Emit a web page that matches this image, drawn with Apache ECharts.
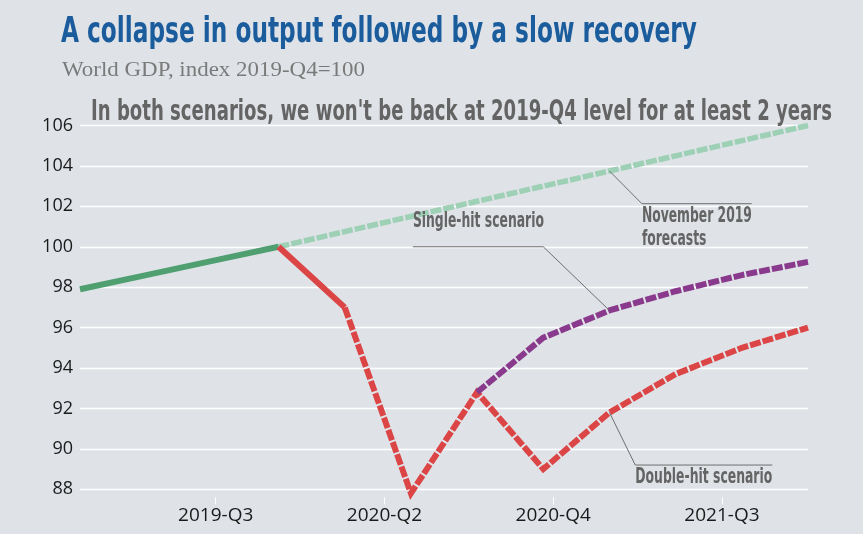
<!DOCTYPE html>
<html><head><meta charset="utf-8">
<script src="https://cdn.jsdelivr.net/npm/echarts@6/dist/echarts.min.js"></script>
<style>html,body{margin:0;padding:0;background:#dfe3e8}#c{width:863px;height:534px}</style>
</head><body><div id="c"></div>
<script>
// ---- data ----
const quarters = ['2019-Q1','2019-Q2','2019-Q3','2019-Q4','2020-Q1','2020-Q2','2020-Q3','2020-Q4','2021-Q1','2021-Q2','2021-Q3','2021-Q4'];
const historyGDP      = [97.9, 98.6, 99.3, 100.0, null, null, null, null, null, null, null, null];
const nov2019Forecast = [null, null, null, 100.0, 100.75, 101.5, 102.25, 103.0, 103.75, 104.5, 105.25, 106.0];
const doubleHit       = [null, null, null, 100.0, 97.0, 87.8, 92.8, 89.0, 91.8, 93.7, 95.0, 96.0];
const singleHit       = [null, null, null, null, null, null, 92.8, 95.5, 96.85, 97.8, 98.6, 99.25];
const xTickLabels    = ['2019-Q3', '2020-Q2', '2020-Q4', '2021-Q3'];
const xTickPositions = [2.05, 4.6, 7.15, 9.7];
const yTicks = [88, 90, 92, 94, 96, 98, 100, 102, 104, 106];

const TITLE = 'A collapse in output followed by a slow recovery';
const SUBTITLE = 'World GDP, index 2019-Q4=100';
const HEADLINE = "In both scenarios, we won't be back at 2019-Q4 level for at least 2 years";

// ---- helpers ----
function pairs(arr, from, to) {
  const out = [];
  arr.forEach((v, i) => { if (v != null && (from == null || i >= from) && (to == null || i <= to)) out.push([i, v]); });
  return out;
}
const ctx = document.createElement('canvas').getContext('2d');
function fitScale(str, font, target) { ctx.font = font; return target / ctx.measureText(str).width; }

const COND = "'Liberation Sans Narrow', 'DejaVu Sans Condensed', 'Roboto Condensed', sans-serif";
const C = {
  bg: '#dfe3e8', green: '#4f9f70', lightGreen: '#9dd0b5', red: '#dc4545', purple: '#8a3a8c',
  grid: '#ffffff', grey: '#646464', blue: '#1a5c9c', axis: '#1a1a1a'
};

const chart = echarts.init(document.getElementById('c'), null, { renderer: 'canvas' });

function lineSeries(name, data, color, width, dashed, z) {
  return {
    name, type: 'line', data, symbol: 'none', clip: false, z: z || 2,
    lineStyle: { color, width, type: dashed ? [11, 2] : 'solid', cap: 'butt', join: 'miter' },
    emphasis: { disabled: true }, animation: false, silent: true
  };
}

chart.setOption({
  backgroundColor: C.bg,
  animation: false,
  grid: { left: 80, right: 55, top: 125.5, bottom: 44.7, containLabel: false, outerBoundsMode: 'none' },
  xAxis: {
    type: 'value', min: 0, max: quarters.length - 1, offset: 8,
    axisLine: { show: false }, splitLine: { show: false },
    axisTick: { show: true, customValues: xTickPositions, length: 7, lineStyle: { color: '#ffffff', width: 1 } },
    axisLabel: {
      customValues: xTickPositions, fontSize: 19, color: C.axis, fontFamily: 'Open Sans', margin: 9,
      formatter: (v) => {
        let best = 0;
        xTickPositions.forEach((p, i) => { if (Math.abs(p - v) < Math.abs(xTickPositions[best] - v)) best = i; });
        return xTickLabels[best];
      }
    }
  },
  yAxis: {
    type: 'value', min: yTicks[0], max: yTicks[yTicks.length - 1], interval: yTicks[1] - yTicks[0],
    axisLine: { show: false }, axisTick: { show: false },
    axisLabel: { fontSize: 18, color: C.axis, fontFamily: 'Open Sans', margin: 7 },
    splitLine: { lineStyle: { color: C.grid, width: 1.3 } }
  },
  series: [
    lineSeries('November 2019 forecasts', pairs(nov2019Forecast), C.lightGreen, 5.5, true, 2),
    lineSeries('History', pairs(historyGDP), C.green, 6, false, 3),
    lineSeries('Double-hit (first quarter)', pairs(doubleHit, 3, 4), C.red, 6, false, 4),
    lineSeries('Double-hit scenario', pairs(doubleHit, 4), C.red, 6, true, 4),
    lineSeries('Single-hit scenario', pairs(singleHit), C.purple, 6, true, 5)
  ]
});

// ---- annotations, anchored in data space ----
const annotations = [
  { lines: ['Single-hit scenario'], anchor: [8, singleHit[8]], elbow: [7.0, 100.0], end: [5.03, 100.0], textAbove: true, width: 131 },
  { lines: ['November 2019', 'forecasts'], anchor: [8, nov2019Forecast[8]], elbow: [8.49, 102.13], end: [10.15, 102.13], textAbove: false, width: 110 },
  { lines: ['Double-hit scenario'], anchor: [8, doubleHit[8]], elbow: [8.39, 89.2], end: [10.46, 89.2], textAbove: false, width: 137 }
];

const annFont = 'bold 21px ' + COND;
const graphics = [];
annotations.forEach(a => {
  const p0 = chart.convertToPixel({ gridIndex: 0 }, a.anchor);
  const p1 = chart.convertToPixel({ gridIndex: 0 }, a.elbow);
  const p2 = chart.convertToPixel({ gridIndex: 0 }, a.end);
  graphics.push({ type: 'polyline', silent: true, z: 10,
    shape: { points: [p0, p1, p2] }, style: { stroke: '#6e6e6e', lineWidth: 1, fill: null } });
  const sx = fitScale(a.lines[0], annFont, a.width);
  const left = Math.min(p1[0], p2[0]);
  a.lines.forEach((t, k) => {
    const y = a.textAbove ? p1[1] - 25 : p1[1] + 13 + k * 23;
    graphics.push({ type: 'text', silent: true, z: 10, x: left, y: y, scaleX: sx,
      style: { text: t, font: annFont, fill: C.grey, align: 'left', verticalAlign: 'middle' } });
  });
});

const titleFont = 'bold 36px ' + COND;
const subFont = '22px "Liberation Serif", "DejaVu Serif", serif';
const headFont = 'bold 28px ' + COND;
graphics.push(
  { type: 'text', silent: true, z: 10, x: 61, y: 33, scaleX: fitScale(TITLE, titleFont, 636),
    style: { text: TITLE, font: titleFont, fill: C.blue, align: 'left', verticalAlign: 'middle' } },
  { type: 'text', silent: true, z: 10, x: 62, y: 70, scaleX: fitScale(SUBTITLE, subFont, 303),
    style: { text: SUBTITLE, font: subFont, fill: '#7a7a7a', align: 'left', verticalAlign: 'middle' } },
  { type: 'text', silent: true, z: 10, x: 91, y: 113, scaleX: fitScale(HEADLINE, headFont, 741),
    style: { text: HEADLINE, font: headFont, fill: C.grey, align: 'left', verticalAlign: 'middle' } }
);
chart.setOption({ graphic: graphics });
</script>
</body></html>
